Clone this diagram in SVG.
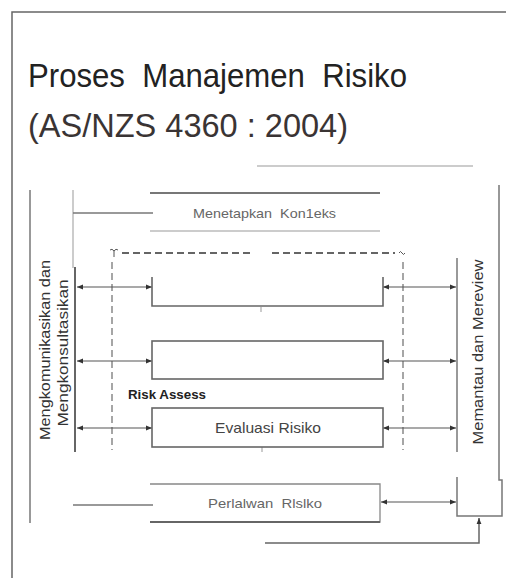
<svg xmlns="http://www.w3.org/2000/svg" width="506" height="578" viewBox="0 0 506 578">
<defs>
<marker id="ah" viewBox="0 0 10 10" refX="10" refY="5" markerWidth="6" markerHeight="6" orient="auto-start-reverse" markerUnits="userSpaceOnUse">
<path d="M0,1 L10,5 L0,9 Z" fill="#333"/>
</marker>
<style>
.t{font-family:"Liberation Sans",Arial,sans-serif;white-space:pre}
.ln{stroke:#777;stroke-width:1.5;fill:none}
.lt{stroke:#999;stroke-width:1;fill:none}
.bx{stroke:#666;stroke-width:1.6;fill:none}
.ar{stroke:#555;stroke-width:1.2;fill:none;marker-start:url(#ah);marker-end:url(#ah)}
.ds{stroke:#333;stroke-width:1.6;stroke-dasharray:7,4;fill:none}
.dv{stroke:#777;stroke-width:1.3;stroke-dasharray:7,4;fill:none}
</style>
</defs>
<rect width="506" height="578" fill="#fff"/>
<g id="frame">
<path d="M12,578 V12 H506" stroke="#666" stroke-width="1.5" fill="none"/>
</g>
<g id="title">
<text class="t" xml:space="preserve" x="28" y="87" font-size="34" fill="#222" textLength="379" lengthAdjust="spacingAndGlyphs">Proses  Manajemen  Risiko</text>
<text class="t" xml:space="preserve" x="28" y="137" font-size="34" fill="#3a3434" textLength="320" lengthAdjust="spacingAndGlyphs">(AS/NZS 4360 : 2004)</text>
</g>
<g id="connectors">
<line class="lt" x1="257" y1="166" x2="473" y2="166"/>
<line class="ln" x1="30" y1="190" x2="30" y2="523"/>
<line class="lt" x1="73" y1="190" x2="73" y2="268"/>
<line x1="75" y1="267" x2="75" y2="452" stroke="#666" stroke-width="2"/>
<line class="ln" x1="73" y1="213" x2="153" y2="213" stroke-width="2"/>
<line class="ln" x1="73" y1="505" x2="153" y2="505" stroke-width="2"/>
<line class="ln" x1="457" y1="258" x2="457" y2="452"/>
<path class="ln" d="M499,185 V480 H502 V516 H457 V477"/>
<path d="M110,250 q2,-2 4,1 q2,-3 4,-1 M114,251 V257" stroke="#555" stroke-width="1" fill="none"/>
<line class="ds" x1="122" y1="253" x2="253" y2="253"/>
<line class="ds" x1="272" y1="253" x2="395" y2="253"/>
<path d="M399,253 q1.5,-3 3,0 t3,0" stroke="#555" stroke-width="1" fill="none"/>
<line class="dv" x1="112" y1="262" x2="112" y2="450"/>
<line class="dv" x1="403" y1="262" x2="403" y2="450"/>
<line class="ar" x1="77" y1="287" x2="152" y2="287"/>
<line class="ar" x1="383" y1="287" x2="456" y2="287"/>
<line class="ar" x1="77" y1="361" x2="152" y2="361"/>
<line class="ar" x1="383" y1="361" x2="456" y2="361"/>
<line class="ar" x1="77" y1="428" x2="152" y2="428"/>
<line class="ar" x1="383" y1="428" x2="456" y2="428"/>
<line class="ar" x1="381" y1="502" x2="456" y2="502"/>
<path d="M265,543 H479 V518" stroke="#666" stroke-width="1.5" fill="none" marker-end="url(#ah)"/>
<line x1="261" y1="307" x2="261" y2="312" stroke="#999" stroke-width="1"/>
<line x1="262" y1="447" x2="262" y2="452" stroke="#999" stroke-width="1"/>
</g>
<g id="menetapkan">
<line x1="150" y1="193" x2="380" y2="193" stroke="#777" stroke-width="2"/>
<line class="lt" x1="150" y1="231" x2="380" y2="231"/>
<text class="t" xml:space="preserve" x="193" y="218" font-size="13.5" fill="#666" textLength="143" lengthAdjust="spacingAndGlyphs">Menetapkan  Kon1eks</text>
</g>
<g id="box1">
<path class="bx" d="M152,277 V306 H383 V277"/>
</g>
<g id="box2">
<rect class="bx" x="152" y="341" width="231" height="38"/>
</g>
<g id="riskassess">
<text class="t" x="128" y="399" font-size="12.5" font-weight="bold" fill="#222" textLength="78" lengthAdjust="spacingAndGlyphs">Risk Assess</text>
</g>
<g id="evaluasi">
<rect class="bx" x="152" y="408" width="231" height="39"/>
<text class="t" x="215" y="433" font-size="15" fill="#444" textLength="106" lengthAdjust="spacingAndGlyphs">Evaluasi Risiko</text>
</g>
<g id="perlawanan">
<path d="M150,484 H380 V522 H150" stroke="#888" stroke-width="1.3" fill="none"/>
<line x1="150" y1="522" x2="380" y2="522" stroke="#666" stroke-width="2"/>
<text class="t" xml:space="preserve" x="208" y="508" font-size="13.5" fill="#666" textLength="114" lengthAdjust="spacingAndGlyphs">Perlalwan  Rlslko</text>
</g>
<g id="komunikasi">
<text class="t" font-size="14" fill="#333" text-anchor="middle" transform="translate(50,350) rotate(-90)" textLength="180" lengthAdjust="spacingAndGlyphs">Mengkomunikasikan dan</text>
<text class="t" font-size="14" fill="#333" text-anchor="middle" transform="translate(68,353) rotate(-90)" textLength="147" lengthAdjust="spacingAndGlyphs">Mengkonsultasikan</text>
</g>
<g id="memantau">
<text class="t" font-size="14" fill="#333" text-anchor="middle" transform="translate(483,352) rotate(-90)" textLength="185" lengthAdjust="spacingAndGlyphs">Memantau dan Mereview</text>
</g>
</svg>
